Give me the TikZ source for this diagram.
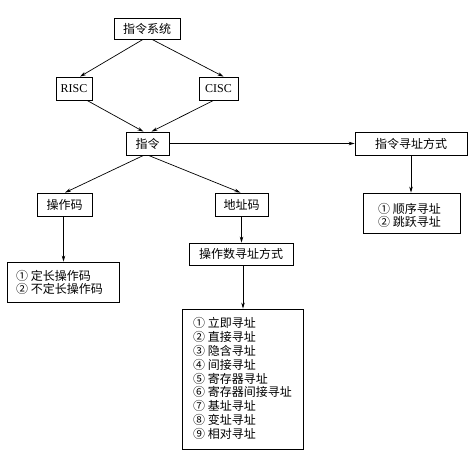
\documentclass[tikz,border=0pt]{standalone}
\usepackage{fontspec}
\setmainfont{Liberation Serif}
\newfontfamily\cjk{Noto Sans CJK SC}
\usetikzlibrary{arrows.meta,calc}
\begin{document}
\begin{tikzpicture}[x=1pt,y=-1pt,
  box/.style={draw=black,line width=0.8pt,inner sep=0pt,font=\fontsize{12}{14}\selectfont\cjk},
  arr/.style={draw=black,line width=0.7pt,-{Stealth[length=6pt,width=3.5pt]}}]
\useasboundingbox (0,0) rectangle (475,459);
\node[box,minimum width=66pt,minimum height=21pt] (sys) at (147,28.5) {指令系统};
\node[box,minimum width=36pt,minimum height=23pt,font=\fontsize{12}{14}\selectfont\rmfamily] (risc) at (74,88.5) {RISC};
\node[box,minimum width=39pt,minimum height=23pt,font=\fontsize{12}{14}\selectfont\rmfamily] (cisc) at (218.5,88.5) {CISC};
\node[box,minimum width=43pt,minimum height=23pt] (zl) at (147.5,143.5) {指令};
\node[box,minimum width=112pt,minimum height=23pt] (zlxz) at (411,143.5) {指令寻址方式};
\node[box,minimum width=55pt,minimum height=23pt] (czm) at (64.5,204.5) {操作码};
\node[box,minimum width=53pt,minimum height=23pt] (dzm) at (241.5,204.5) {地址码};
\node[box,minimum width=104pt,minimum height=22pt] (czs) at (241,254) {操作数寻址方式};
\node[box,minimum width=112pt,minimum height=40pt] (dc) at (63,282) {};
\node[anchor=west,font=\fontsize{12}{13}\selectfont\cjk,align=left,inner sep=0pt] (dct) at (16,282.5) {① 定长操作码\\② 不定长操作码};
\node[box,minimum width=97pt,minimum height=40pt] (sx) at (411.5,213) {};
\node[anchor=west,font=\fontsize{12}{13}\selectfont\cjk,align=left,inner sep=0pt] (sxt) at (378,215.5) {① 顺序寻址\\② 跳跃寻址};
\node[box,minimum width=121pt,minimum height=140pt] (big) at (242.5,379) {};
\node[anchor=west,font=\fontsize{12}{13.9}\selectfont\cjk,align=left,inner sep=0pt] (bigt) at (193,378.5) {① 立即寻址\\② 直接寻址\\③ 隐含寻址\\④ 间接寻址\\⑤ 寄存器寻址\\⑥ 寄存器间接寻址\\⑦ 基址寻址\\⑧ 变址寻址\\⑨ 相对寻址};
\draw[arr] ($(sys.south)+(-4,0)$) -- ($(risc.north)+(6,0)$);
\draw[arr] ($(sys.south)+(5,0)$) -- ($(cisc.north)+(5,0)$);
\draw[arr] ($(risc.south)+(13,0)$) -- ($(zl.north)+(-4,0)$);
\draw[arr] ($(cisc.south)+(-5,0)$) -- ($(zl.north)+(4,0)$);
\draw[arr] (zl.east) -- (zlxz.west);
\draw[arr] (zlxz.south) -- (sx.north -| zlxz.south);
\draw[arr] ($(zl.south)+(-4,0)$) -- ($(czm.north)+(0.5,0)$);
\draw[arr] ($(zl.south)+(1,0)$) -- ($(dzm.north)+(-1,0)$);
\draw[arr] ($(czm.south)+(-1,0)$) -- ($(dc.north)+(0.5,0)$);
\draw[arr] ($(dzm.south)+(0,0)$) -- (czs.north -| dzm.south);
\draw[arr] ($(czs.south)+(2,0)$) -- ($(big.north)+(0.5,0)$);
\end{tikzpicture}
\end{document}
